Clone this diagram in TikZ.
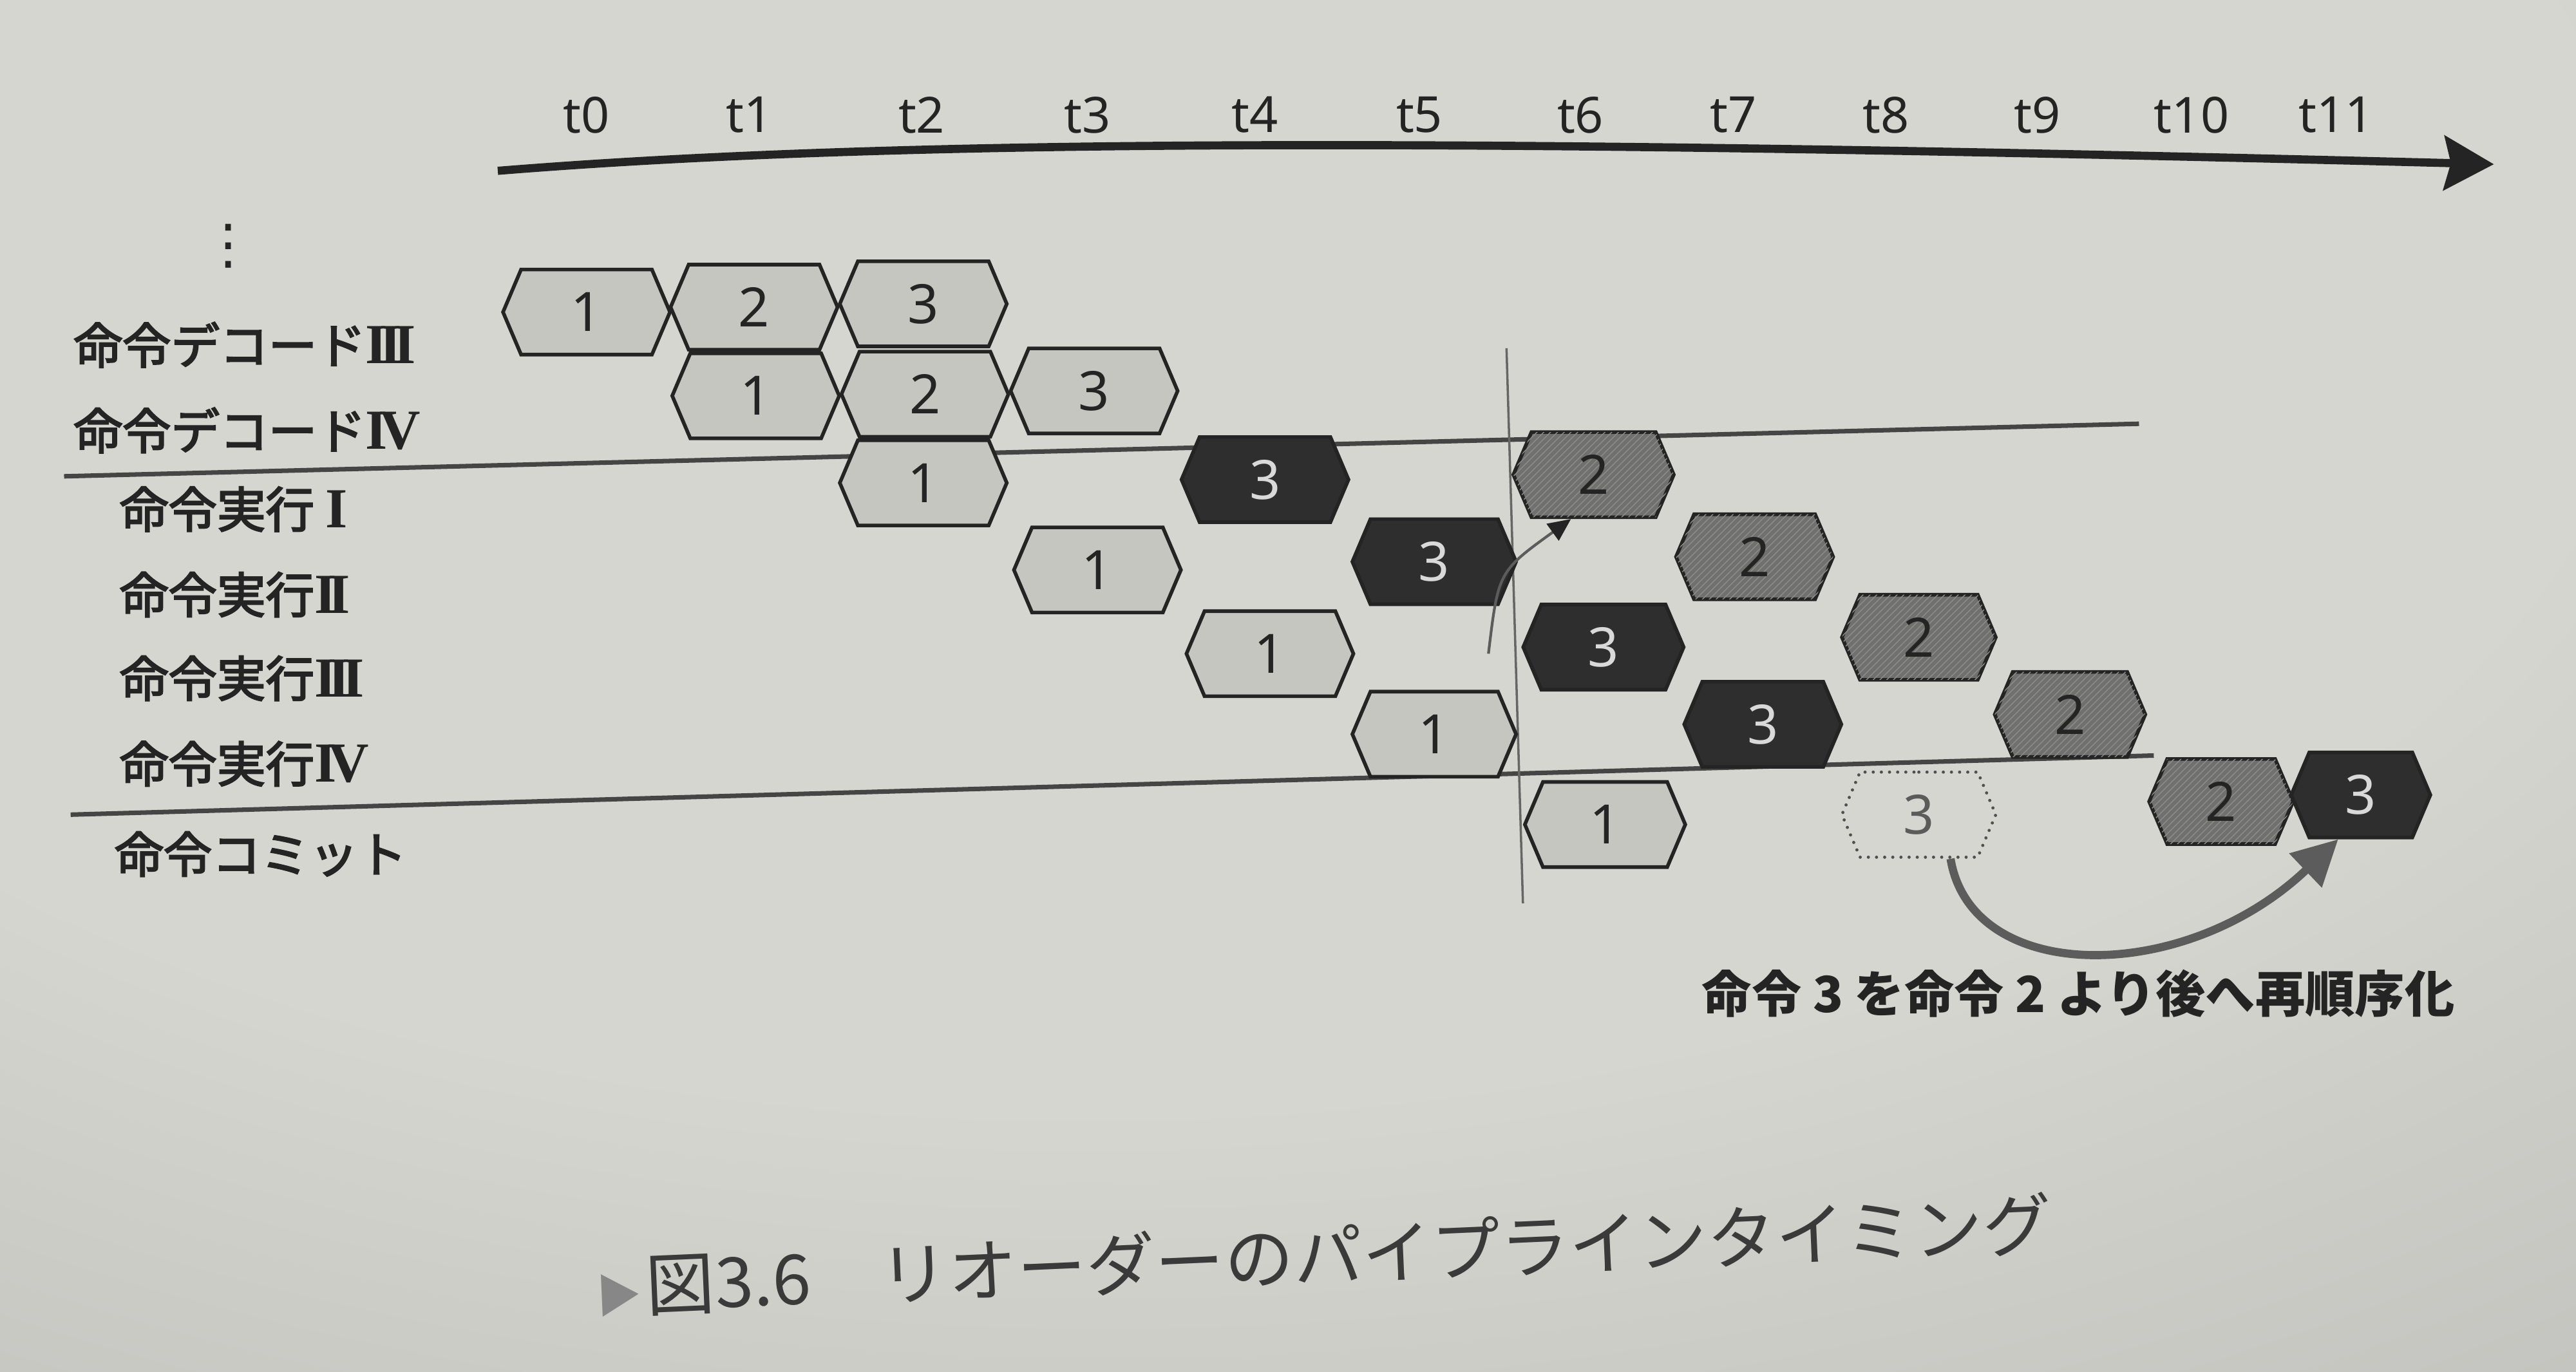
\documentclass[tikz,border=0pt]{standalone}
\usepackage{fontspec}
\setsansfont{Noto Sans}
\newfontfamily\jpfont{Noto Sans CJK JP}
\newfontfamily\jpmed[FakeBold=3]{Noto Sans CJK JP}
\newfontfamily\romfont{Liberation Serif}
\newfontfamily\symfont{DejaVu Sans}
\usetikzlibrary{shapes.symbols,arrows.meta,patterns}

\definecolor{paperhi}{RGB}{214,214,208}
\definecolor{papermid}{RGB}{184,184,181}
\definecolor{paperlo}{RGB}{132,131,134}
\definecolor{ink}{RGB}{36,36,36}
\definecolor{hexlightfill}{RGB}{198,198,193}
\definecolor{hexmidfill}{RGB}{112,112,110}
\definecolor{hexdarkfill}{RGB}{46,46,46}
\definecolor{arrowgray}{RGB}{92,92,92}

\pgfdeclareradialshading{paper}{\pgfpoint{-6bp}{22bp}}{color(0bp)=(paperhi); color(30bp)=(paperhi); color(56bp)=(papermid); color(90bp)=(paperlo)}

\newcommand\rmn[1]{{\romfont\bfseries\fontsize{25}{25}\selectfont #1}}

\begin{document}
\begin{tikzpicture}[x=0.02551cm,y=-0.02551cm,
    hex/.style={signal,signal to=east and west,signal pointer angle=134,
      minimum width=#1*0.7233pt,minimum height=52*0.7233pt,inner sep=0pt,
      draw=ink,line width=1.6pt,font=\sffamily\fontsize{24}{24}\selectfont},
    hex/.default=102,
    hexone/.style={hex=#1,fill=hexlightfill,text=ink},
    hexone/.default=102,
    hextwo/.style={hex=#1,fill=hexmidfill,text=ink,
      postaction={pattern=north east lines,pattern color=black!45}},
    hextwo/.default=102,
    hexthree/.style={hex=#1,fill=hexdarkfill,text=white!85!black},
    hexthree/.default=102,
    hexghost/.style={hex=#1,draw=ink!80,line width=1.4pt,
      dash pattern=on 0pt off 3.6pt,line cap=round,text=ink!75},
    hexghost/.default=94,
    tlabel/.style={font=\sffamily\fontsize{22}{22}\selectfont,text=ink},
    stage/.style={anchor=west,font=\jpmed\fontsize{21.5}{21.5}\selectfont,text=ink},
    sepline/.style={draw=ink!85,line width=2pt},
  ]
  % paper
  \shade[shading=paper] (0,0) rectangle (1568,835);
  \useasboundingbox (0,0) rectangle (1568,835);

  % time axis
  \foreach \x/\t in {357/0,456/1,561/2,662/3,764/4,864/5,962/6,1055/7,1148/8,1240/9,1334/10,1422/11}
    \node[tlabel] (t\t) at (\x,70) {t\t};
  \coordinate (axisL) at (303,104);
  \coordinate (axisR) at (1518,100);
  \draw[ink,line width=3.6pt,-{Stealth[length=22pt,width=24pt,inset=3pt]}]
    (axisL) .. controls (550,84) and (900,84) .. (axisR);

  % stages
  \node[font=\symfont\fontsize{24}{24}\selectfont,text=ink,inner sep=0pt] (vdots) at (139,150) {⋮};
  \node[stage] (lblDecIII) at (40,210) {命令デコード\rmn{I\kern-3.5ptI\kern-3.5ptI}};
  \node[stage] (lblDecIV) at (40,262) {命令デコード\rmn{I\kern-3.5ptV}};
  \node[stage] (lblExI) at (68,310) {命令実行\hspace{5pt}\rmn{I}};
  \node[stage] (lblExII) at (68,362) {命令実行\rmn{I\kern-3.5ptI}};
  \node[stage] (lblExIII) at (68,413) {命令実行\rmn{I\kern-3.5ptI\kern-3.5ptI}};
  \node[stage] (lblExIV) at (68,465) {命令実行\rmn{I\kern-3.5ptV}};
  \node[stage] (lblCommit) at (65,520) {命令コミット};

  % separators and the t6 marker
  \coordinate (sepAL) at (39,290);
  \coordinate (sepAR) at (1302,258);
  \coordinate (sepBL) at (43,496);
  \coordinate (sepBR) at (1311,460);
  \coordinate (nowT) at (917,212);
  \coordinate (nowB) at (927,550);
  \draw[sepline] (sepAL) -- (sepAR);
  \draw[sepline] (sepBL) -- (sepBR);
  \draw[ink!70,line width=1pt] (nowT) -- (nowB);

  % decode
  \node[hexone] (decIII1) at (357,190) {1};
  \node[hexone] (decIII2) at (459,187) {2};
  \node[hexone] (decIII3) at (562,185) {3};
  \node[hexone] (decIV1) at (460,241) {1};
  \node[hexone] (decIV2) at (563,240) {2};
  \node[hexone] (decIV3) at (666,238) {3};

  % execute
  \node[hexone] (exI1) at (562,294) {1};
  \node[hexthree] (exI3) at (770,292) {3};
  \node[hextwo=98] (exI2) at (970,289) {2};
  \node[hexone] (exII1) at (668,347) {1};
  \node[hexthree=100] (exII3) at (873,342) {3};
  \node[hextwo=96] (exII2) at (1068,339) {2};
  \node[hexone] (exIII1) at (773,398) {1};
  \node[hexthree=98] (exIII3) at (976,394) {3};
  \node[hextwo=94] (exIII2) at (1168,388) {2};
  \node[hexone=100] (exIV1) at (873,447) {1};
  \node[hexthree=96] (exIV3) at (1073,441) {3};
  \node[hextwo=92] (exIV2) at (1260,435) {2};

  % commit
  \node[hexone=98] (cm1) at (977,502) {1};
  \node[hexghost] (cm3o) at (1168,496) {3};
  \node[hextwo=88] (cm2) at (1352,488) {2};
  \node[hexthree=85] (cm3) at (1437,484) {3};

  % arrows
  \coordinate (fwdStart) at (906,398);
  \draw[arrowgray,line width=1.2pt,-{Triangle[length=10pt,width=9pt,color=ink]}]
    (fwdStart) .. controls (912,348) .. ([xshift=-10pt]exI2.south);
  \draw[arrowgray,line width=3.6pt,-{Triangle[length=20pt,width=20pt]}]
    ([xshift=14pt]cm3o.south) .. controls (1200,600) and (1330,600) .. ([xshift=-10pt]cm3.south);

  \node[font=\jpfont\bfseries\fontsize{22}{22}\selectfont,text=ink] (note) at (1265,605)
    {命令 3 を命令 2 より後へ再順序化};

  % caption
  \node[font=\jpfont\fontsize{30.5}{30.5}\selectfont,text=ink!90,rotate=2.5] (caption) at (806,764)
    {{\color{ink!55}\fontsize{20}{20}\selectfont ▶}\kern2pt 図3.6\quad リオーダーのパイプラインタイミング};
\end{tikzpicture}
\end{document}
